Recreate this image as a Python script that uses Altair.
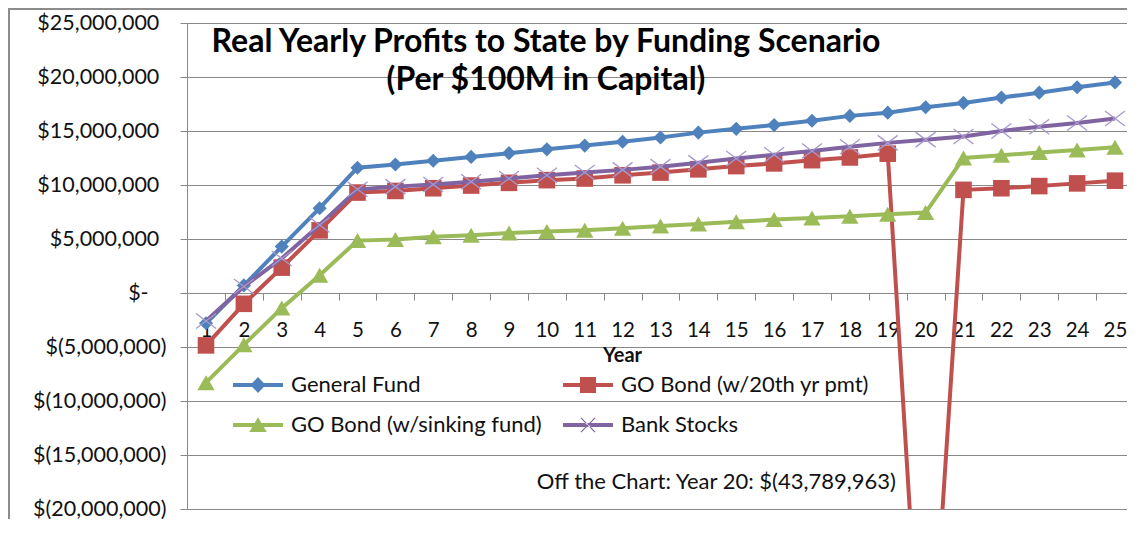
import altair as alt
import pandas as pd

# ---------------- data ----------------
years = list(range(1, 26))
general_fund = [-2.8, 0.7, 4.3, 7.85, 11.6, 11.9, 12.25, 12.6, 12.95, 13.3, 13.65, 14.0, 14.4,
                14.85, 15.2, 15.55, 15.95, 16.4, 16.7, 17.2, 17.6, 18.1, 18.55, 19.05, 19.5]
go_bond_20th = [-4.85, -1.0, 2.35, 5.8, 9.3, 9.45, 9.7, 9.95, 10.2, 10.45, 10.6, 10.9, 11.15,
                11.45, 11.75, 12.0, 12.3, 12.55, 12.9, -43.789963, 9.55, 9.7, 9.9, 10.15, 10.4]
go_bond_sinking = [-8.3, -4.8, -1.4, 1.65, 4.85, 4.95, 5.2, 5.35, 5.55, 5.7, 5.8, 6.0, 6.2,
                   6.4, 6.6, 6.8, 6.95, 7.1, 7.3, 7.45, 12.5, 12.75, 13.0, 13.25, 13.5]
bank_stocks = [-2.6, 0.6, 3.2, 6.3, 9.6, 9.85, 10.05, 10.3, 10.6, 10.9, 11.15, 11.4, 11.7,
               12.05, 12.45, 12.8, 13.15, 13.55, 13.9, 14.2, 14.5, 15.0, 15.4, 15.75, 16.15]

series_names = ["General Fund", "GO Bond (w/20th yr pmt)", "GO Bond (w/sinking fund)", "Bank Stocks"]
series_values = [general_fund, go_bond_20th, go_bond_sinking, bank_stocks]
series_colors = ["#4F81BD", "#C0504D", "#9BBB59", "#8064A2"]

y_ticks = [-20e6, -15e6, -10e6, -5e6, 0, 5e6, 10e6, 15e6, 20e6, 25e6]
x_tick_edges = [y - 0.5 for y in years]

title_lines = ["Real Yearly Profits to State by Funding Scenario", "(Per $100M in Capital)"]
annotation_text = ["Off the Chart: Year 20: $(43,789,963)"]

# ---------------- tables ----------------
rows = []
for name, vals in zip(series_names, series_values):
    for yr, v in zip(years, vals):
        rows.append({"year": yr, "value": v * 1e6, "series": name})
df = pd.DataFrame(rows)

ann_df = pd.DataFrame({"year": [14.475], "value": [-17.5e6], "text": annotation_text})

FONT = "Lato"
GRID = "#888888"
TEXT = "#111111"
W, H = 940, 486
X0, X1 = 0.4984, 25.317
STEP = W / (X1 - X0)

x_enc = alt.X(
    "year:Q",
    scale=alt.Scale(domain=[X0, X1], nice=False, zero=False),
    axis=alt.Axis(
        values=x_tick_edges,
        labelExpr="format(datum.value + 0.5, 'd')",
        labelOffset=STEP / 2,
        labelFlush=False,
        labelOverlap=False,
        labelFont=FONT, labelFontSize=20.5, labelColor=TEXT,
        labelPadding=20,
        tickSize=7, tickColor=GRID, domainColor=GRID,
        grid=False,
        offset=-216,
        title="Year", titleFont=FONT, titleFontSize=20, titleFontWeight="bold",
        titleColor=TEXT, titleX=435, titleY=62, titleBaseline="middle", titleAlign="center",
    ),
)

y_label_expr = (
    "datum.value > 0 ? '$' + format(datum.value, ',') + '\u2004\u2060' : "
    "(datum.value < 0 ? '$(' + format(-datum.value, ',') + ')' : '$-\u2002\u2004\u2060')"
)
y_enc = alt.Y(
    "value:Q",
    scale=alt.Scale(domain=[-20e6, 25e6], nice=False),
    axis=alt.Axis(
        values=y_ticks,
        labelExpr=y_label_expr,
        labelFont=FONT, labelFontSize=21.5, labelColor=TEXT, labelPadding=14,
        labelOverlap=False,
        tickSize=7, tickColor=GRID, domainColor=GRID,
        grid=True, gridColor=GRID, gridWidth=1,
        title=None,
    ),
)

marker_specs = [
    dict(shape="diamond", size=200, filled=True),
    dict(shape="square", size=275, filled=True),
    dict(shape="triangle-up", size=300, filled=True),
    dict(shape="M-1,-0.75L1,0.75M-1,0.75L1,-0.75", size=400, filled=False),
]

frame = alt.Chart(pd.DataFrame({"k": [0]})).mark_rect(
    filled=False, stroke="#8c8c8c", strokeWidth=2, clip=False
).encode(x=alt.value(-178), x2=alt.value(W + 40), y=alt.value(-14), y2=alt.value(H + 60))

layers = [frame]
for name, color, spec in zip(series_names, series_colors, marker_specs):
    base = alt.Chart(df).transform_filter(alt.datum.series == name)
    layers.append(base.mark_line(color=color, strokeWidth=4, clip=True).encode(x=x_enc, y=y_enc))
    if spec["filled"]:
        pts = base.mark_point(shape=spec["shape"], size=spec["size"], filled=True,
                              color=color, opacity=1, clip=True)
    else:
        pts = base.mark_point(shape=spec["shape"], size=spec["size"], filled=False,
                              color="#A898CC", strokeWidth=1.3, opacity=1, clip=True)
    layers.append(pts.encode(x=x_enc, y=y_enc))

# legend symbols: line segment + marker (custom paths, unit = 7px)
LINE = "M-3.57,-0.29H3.57V0.29H-3.57Z"
legend_paths = {
    "General Fund": LINE + "M-1.1,0L0,-1.15L1.1,0L0,1.15Z",
    "GO Bond (w/20th yr pmt)": LINE + "M-1.15,-1.15H1.15V1.15H-1.15Z",
    "GO Bond (w/sinking fund)": LINE + "M0,-1.1L1.25,1L-1.25,1Z",
    "Bank Stocks": LINE + "M-1.07,-0.95L0.95,1.07L1.07,0.95L-0.95,-1.07ZM-1.07,0.95L0.95,-1.07L1.07,-0.95L-0.95,1.07Z",
}
color_of = dict(zip(series_names, series_colors))
# legend fills column by column: first column = first two entries
legend_order = [series_names[0], series_names[2], series_names[1], series_names[3]]

leg = alt.Legend(
    title=None, orient="none", legendX=60, legendY=351, columns=2,
    symbolSize=196, symbolStrokeWidth=0, symbolOpacity=1,
    labelFont=FONT, labelFontSize=22, labelColor=TEXT, labelOffset=22,
    rowPadding=18, columnPadding=21, padding=0, labelLimit=400,
)
legend_layer = alt.Chart(pd.DataFrame({"series": series_names})).transform_filter("false").mark_point(
    filled=True, opacity=1
).encode(
    color=alt.Color("series:N", scale=alt.Scale(domain=legend_order,
                                                range=[color_of[s] for s in legend_order]), legend=leg),
    shape=alt.Shape("series:N", scale=alt.Scale(domain=legend_order,
                                                range=[legend_paths[s] for s in legend_order]), legend=leg),
)
layers.append(legend_layer)

ann = alt.Chart(ann_df).mark_text(font=FONT, fontSize=22, color=TEXT, align="center", baseline="middle").encode(
    x=x_enc, y=y_enc, text="text:N"
)
layers.append(ann)

chart = alt.layer(*layers).properties(
    width=W, height=H,
    padding={"left": 179, "top": 15, "right": 0, "bottom": 10},
    autosize=alt.AutoSizeParams(type="none"),
    title=alt.TitleParams(
        text=title_lines, font=FONT, fontSize=32, fontWeight="bold", color="#000000",
        anchor="middle", frame="group", dx=-111, dy=89, lineHeight=38, baseline="top", offset=0,
    ),
    background="white",
).configure_view(strokeWidth=0)

chart.save("out.html", embed_options={"renderer": "svg", "actions": False})
